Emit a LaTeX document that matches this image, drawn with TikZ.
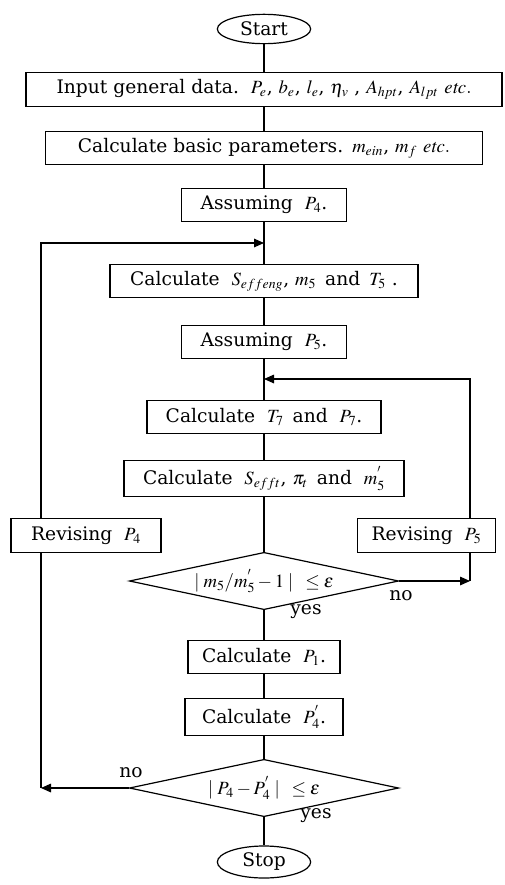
\documentclass[tikz,border=0pt]{standalone}
\usepackage{mathptmx}
\usepackage{fontspec}
\setmainfont{DejaVu Serif}
\usetikzlibrary{arrows.meta,shapes.geometric}

\tikzset{
  procbox/.style={draw, line width=0.9pt, minimum height=25pt, inner sep=0.75pt, font=\fontsize{14pt}{16pt}\selectfont},
  decide/.style={draw, line width=0.9pt, diamond, aspect=4.7, inner sep=0pt, minimum width=202pt, minimum height=43pt, font=\fontsize{14pt}{16pt}\selectfont},
  terminal/.style={draw, line width=0.9pt, ellipse, minimum width=70pt, minimum height=22pt, inner sep=0pt, font=\fontsize{14pt}{16pt}\selectfont},
  flowline/.style={line width=0.8pt},
  flowarr/.style={line width=0.8pt, -{Triangle[length=7.5pt,width=6.5pt]}},
  answer/.style={inner sep=0.75pt, font=\fontsize{14pt}{16pt}\selectfont}
}

\begin{document}
\begin{tikzpicture}[x=0.75pt,y=0.75pt,yscale=-1,xscale=1]
\useasboundingbox (0,0) rectangle (504,885);

% Terminal
\node [terminal] (start) at (264,29) {Start};
% Process boxes
\node [procbox, minimum width=357pt] (input) at (264,89.5) {Input general data.\ \ $P_e$, $b_e$, $l_e$, $\eta_v$ , $A_{hpt}$, $A_{lpt}$\ $\mathit{etc.}$};
\node [procbox, minimum width=328pt] (basic) at (264,148) {Calculate basic parameters.\ \,$m_{ein}$, $m_f$\ $\mathit{etc.}$};
\node [procbox, minimum width=124pt] (assumefour) at (264,205) {Assuming\ \ $P_4$.};
\node [procbox, minimum width=231pt] (calcseng) at (264,281) {Calculate\ \ $S_{effeng}$, $m_5$\, and\ \,$T_5$ .};
\node [procbox, minimum width=124pt] (assumefive) at (264,342) {Assuming\ \ $P_5$.};
\node [procbox, minimum width=175.5pt] (calcseven) at (264,417) {Calculate\ \ $T_7$\, and\ \ $P_7$.};
\node [procbox, minimum width=210pt, minimum height=27.5pt] (calcst) at (264,478.5) {Calculate\ \ $S_{efft}$,\ $\pi_t$\, and\ \ $m_5^{'}$};
\node [procbox, minimum width=112.5pt] (revfour) at (86,535.5) {Revising\ \ $P_4$};
\node [procbox, minimum width=104pt] (revfive) at (426.5,535.5) {Revising\ \ $P_5$};
% Decisions
\node [decide] (checkm) at (264,581) {$\mid m_5/m_5^{'}-1\mid\ \ \le\epsilon$};
\node [procbox, minimum width=114pt] (calcone) at (264,657) {Calculate\ \ $P_1$.};
\node [procbox, minimum width=118.5pt, minimum height=27.5pt] (calcfour) at (264,717) {Calculate\ \ $P_4^{'}$.};
\node [decide] (checkp) at (264,788) {$\mid P_4-P_4^{'}\mid\ \ \le\epsilon$};
\node [terminal, minimum height=24pt] (stop) at (264,862) {Stop};

% Junctions
\coordinate (loopfour) at (264,243);
\coordinate (loopfive) at (264,379);
\coordinate (nofour) at (41,788);
\coordinate (nofive) at (470,581);

% Main line
\draw [flowline] (start) -- (input) -- (basic) -- (assumefour) -- (calcseng) -- (assumefive) -- (calcseven) -- (calcst) -- (checkm) -- (calcone) -- (calcfour) -- (checkp) -- (stop);

% Loop over P4
\draw [flowarr] (checkp.west) -- (nofour);
\draw [flowline] (nofour) -- (nofour |- revfour.south);
\draw [flowarr] (nofour |- revfour.north) |- (loopfour);
% Loop over P5
\draw [flowarr] (checkm.east) -- (nofive);
\draw [flowline] (nofive) -- (nofive |- revfive.south);
\draw [flowarr] (nofive |- revfive.north) |- (loopfive);

% Text Node
\node [answer] (nofivetxt) at (401,596) {no};
\node [answer] (yesm) at (306,612) {yes};
\node [answer] (nofourtxt) at (131,773) {no};
\node [answer] (yesp) at (316,816) {yes};

\end{tikzpicture}
\end{document}
